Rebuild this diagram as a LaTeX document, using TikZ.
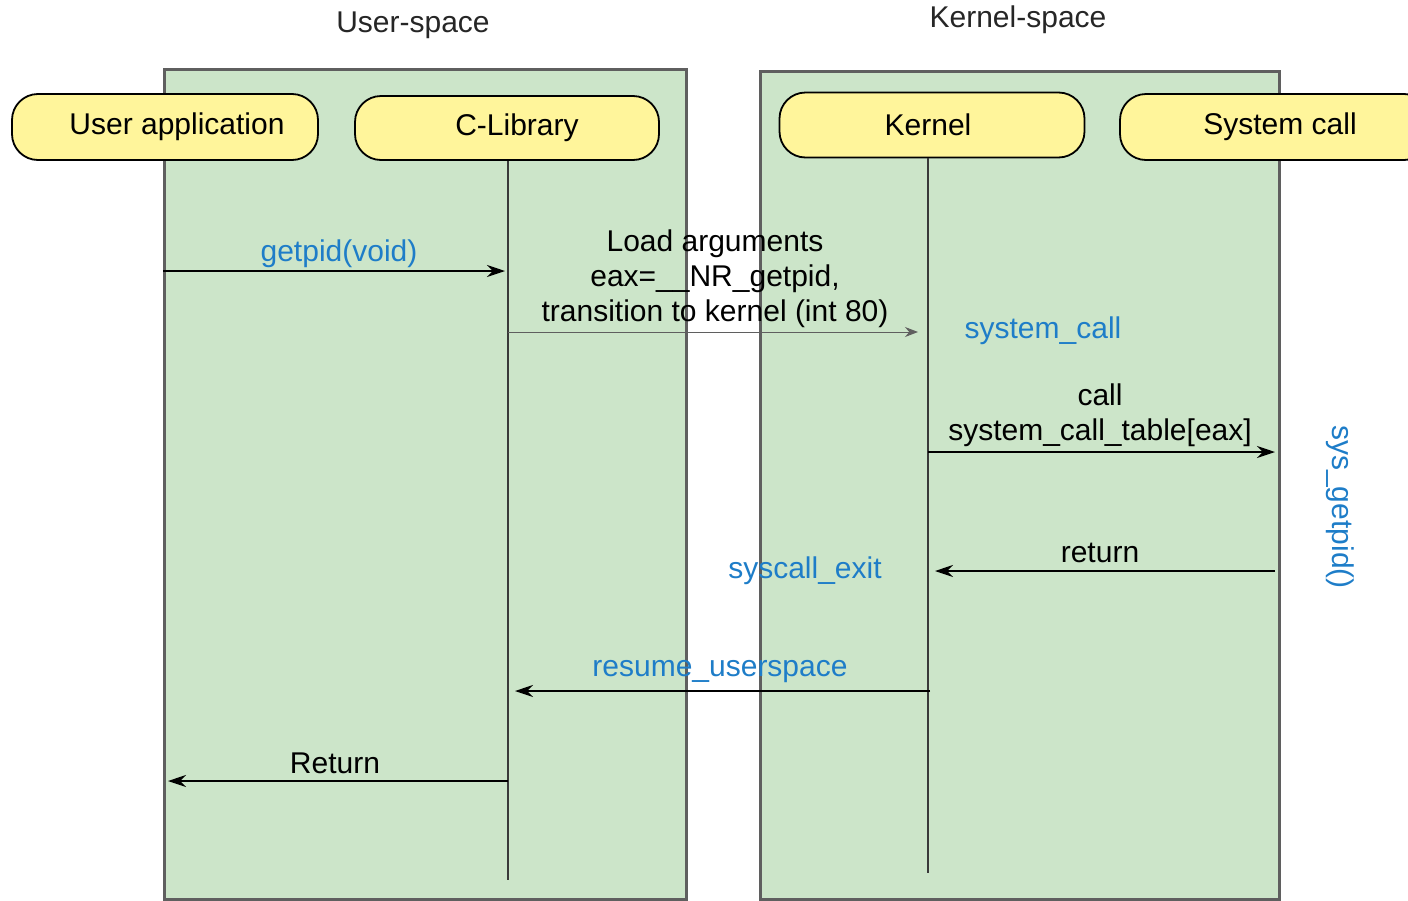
\documentclass[tikz,border=0pt]{standalone}
\usepackage{fontspec}
\setmainfont{Liberation Sans}
\usetikzlibrary{arrows.meta}
\definecolor{boxgreen}{RGB}{204,229,201}
\definecolor{nodeyellow}{RGB}{255,245,155}
\definecolor{lblue}{RGB}{30,125,200}
\definecolor{edgegray}{RGB}{95,95,95}
\begin{document}
\begin{tikzpicture}[x=1pt,y=-1pt,
  lane/.style={draw=edgegray, line width=3pt, fill=boxgreen, inner sep=0pt, anchor=north west},
  actor/.style={draw=black, line width=1.8pt, fill=nodeyellow, rounded corners=26pt, inner sep=0pt, font=\fontsize{30}{36}\selectfont},
  lifeline/.style={draw=edgegray!60!black, line width=2.4pt},
  msg/.style={draw=black, line width=2.2pt, -{Stealth[length=18pt,width=12pt]}},
  thinmsg/.style={draw=edgegray, line width=1pt, -{Stealth[length=13pt,width=10pt]}},
  lbl/.style={font=\fontsize{30}{35}\selectfont, inner sep=0pt, align=center},
  bluelbl/.style={lbl, text=lblue},
  ttl/.style={lbl, text=black!85}
]
\clip (0,0) rectangle (1408,900);
\useasboundingbox (0,0) rectangle (1408,900);
% lanes
\node[lane, minimum width=522pt, minimum height=830pt] (us) at (163,68) {};
\node[lane, minimum width=519pt, minimum height=828pt] (ks) at (759,70) {};
\node[ttl] (ust) at (413,25) {User-space};
\node[ttl] (kst) at (1018,20) {Kernel-space};
% actors
\node[actor, minimum width=306pt, minimum height=66pt] (ua) at (165,127) {\hspace*{24pt}User application};
\node[actor, minimum width=304pt, minimum height=64pt] (clib) at (507,128) {\hspace*{20pt}C-Library};
\node[actor, minimum width=305pt, minimum height=65pt] (kern) at (932,125) {Kernel\hspace*{8pt}};
\node[actor, minimum width=310pt, minimum height=66pt] (sysc) at (1275,127) {\hspace*{10pt}System call};
% lifelines
\coordinate (clibend) at (508,880);
\coordinate (kernend) at (928,873);
\draw[lifeline] (clib.south -| clibend) -- (clibend);
\draw[lifeline] (kern.south -| kernend) -- (kernend);
% coordinates for messages
\coordinate (m1s) at (163,271); \coordinate (m1e) at (505,271);
\coordinate (m2s) at (508,332); \coordinate (m2e) at (918,332);
\coordinate (m3s) at (928,452); \coordinate (m3e) at (1275,452);
\coordinate (m4s) at (1275,571); \coordinate (m4e) at (935,571);
\coordinate (m5s) at (930,691); \coordinate (m5e) at (515,691);
\coordinate (m6s) at (508,781); \coordinate (m6e) at (168,781);
% messages
\draw[msg] (m1s) -- (m1e);
\node[bluelbl] (l1) at (339,254) {getpid(void)};
\draw[thinmsg] (m2s) -- (m2e);
\node[lbl] (l2) at (715,279) {Load arguments\\eax=\_\_NR\_getpid,\\transition to kernel (int 80)};
\node[bluelbl] (l2b) at (1043,331) {system\_call};
\draw[msg] (m3s) -- (m3e);
\node[lbl] (l3) at (1100,415) {call\\system\_call\_table[eax]};
\draw[msg] (m4s) -- (m4e);
\node[lbl] (l4) at (1100,553) {return};
\node[bluelbl] (l4b) at (805,571) {syscall\_exit};
\draw[msg] (m5s) -- (m5e);
\node[bluelbl] (l5) at (720,672) {resume\_userspace};
\draw[msg] (m6s) -- (m6e);
\node[lbl] (l6) at (335,763) {Return};
\node[bluelbl, rotate=-90] (l7) at (1340,507) {sys\_getpid()};
\end{tikzpicture}
\end{document}
